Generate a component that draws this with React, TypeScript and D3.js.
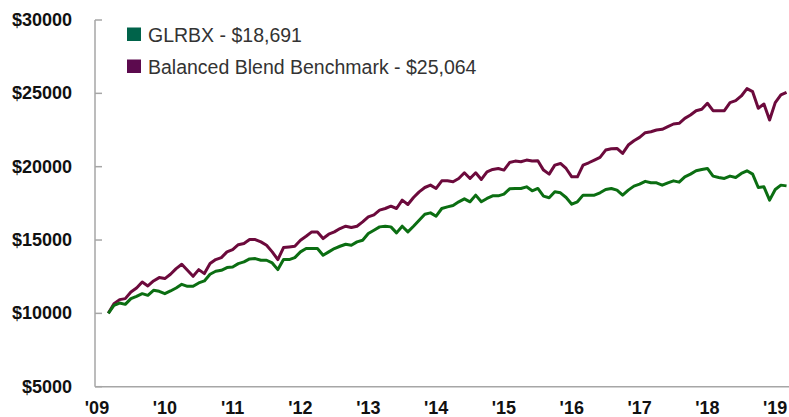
import React from "react";
import * as d3 from "d3";

// Monthly values, Mar 2009 .. Mar 2019
const startYear = 2009;
const startMonth = 2; // March (0-based)

const fundValues = [
  10000, 10546, 10705, 10615, 11004, 11161, 11345, 11229, 11571, 11503,
  11345, 11526, 11732, 11981, 11844, 11844, 12073, 12210, 12664, 12869,
  12937, 13119, 13165, 13390, 13506, 13711, 13734, 13620, 13620, 13438,
  12983, 13666, 13666, 13803, 14190, 14417, 14417, 14417, 13961, 14190,
  14417, 14576, 14713, 14644, 14872, 14986, 15442, 15670, 15896, 15942,
  15896, 15487, 15942, 15553, 15942, 16352, 16762, 16851, 16625, 17149,
  17262, 17356, 17604, 17809, 17604, 18059, 17604, 17832, 18013, 18013,
  18128, 18490, 18515, 18515, 18627, 18353, 18515, 17991, 17878, 18285,
  18217, 17900, 17445, 17604, 18059, 18059, 18059, 18217, 18445, 18515,
  18400, 18059, 18400, 18674, 18811, 19000, 18900, 18900, 18742, 18900,
  19034, 18947, 19309, 19494, 19719, 19810, 19878, 19357, 19268, 19195,
  19357, 19268, 19541, 19719, 19494, 18581, 18627, 17718, 18445, 18742,
  18691,
];

const benchValues = [
  10000, 10662, 10935, 11004, 11459, 11732, 12142, 11868, 12210, 12438,
  12370, 12664, 13051, 13347, 12937, 12527, 12983, 12710, 13393, 13666,
  13803, 14190, 14349, 14680, 14760, 15033, 15033, 14872, 14644, 14190,
  13666, 14487, 14530, 14576, 14986, 15259, 15553, 15553, 15100, 15396,
  15553, 15782, 15942, 15851, 15942, 16236, 16578, 16720, 17035, 17149,
  17308, 17149, 17718, 17422, 17900, 18285, 18581, 18742, 18515, 19034,
  19034, 18968, 19195, 19582, 19195, 19582, 19127, 19650, 19810, 19878,
  19767, 20280, 20382, 20335, 20450, 20382, 20403, 19767, 19494, 20109,
  20221, 19878, 19309, 19309, 20109, 20267, 20450, 20632, 21133, 21224,
  21247, 20904, 21475, 21771, 21999, 22320, 22383, 22500, 22546, 22724,
  22909, 22955, 23296, 23523, 23816, 23913, 24323, 23816, 23816, 23816,
  24369, 24500, 24821, 25320, 25115, 23980, 24275, 23182, 24369, 24889,
  25064,
];

const yTicks = [5000, 10000, 15000, 20000, 25000, 30000];
const xYears = [2009, 2010, 2011, 2012, 2013, 2014, 2015, 2016, 2017, 2018, 2019];

const legendItems = [
  { label: "GLRBX - $18,691", color: "#00634a" },
  { label: "Balanced Blend Benchmark - $25,064", color: "#5c0a4e" },
];

const W = 789;
const H = 417;

export default function App() {
  const axisX = 95;
  const axisBottom = 386.7;
  const monthIndex = (i: number) => (startYear - 2009) * 12 + startMonth + i;
  const x = d3.scaleLinear().domain([0, 120]).range([97, 97 + 120 * 5.652]);
  const y = d3.scaleLinear().domain([5000, 30000]).range([axisBottom, 20]);

  const line = d3
    .line<number>()
    .x((_, i) => x(monthIndex(i)))
    .y((d) => y(d))
    .curve(d3.curveLinear);

  const font = "Arial, 'Liberation Sans', sans-serif";

  return (
    <svg
      width={W}
      height={H}
      style={{ position: "absolute", left: 0, top: 0, background: "#fff" }}
      fontFamily={font}
    >
      {/* axes */}
      <line x1={axisX} x2={axisX} y1={y(30000)} y2={axisBottom} stroke="#a6a6a6" strokeWidth={1.5} />
      <line x1={axisX} x2={W} y1={axisBottom} y2={axisBottom} stroke="#a6a6a6" strokeWidth={1.5} />
      {yTicks.map((t) => (
        <g key={t}>
          <line x1={axisX} x2={axisX + 7} y1={y(t)} y2={y(t)} stroke="#a6a6a6" strokeWidth={1.5} />
          <text
            x={72}
            y={y(t)}
            textAnchor="end"
            dominantBaseline="central"
            fontSize={18}
            fontWeight="bold"
            fill="#111"
          >
            {"$" + t}
          </text>
        </g>
      ))}
      {xYears.map((yr) => (
        <text
          key={yr}
          x={x((yr - 2009) * 12)}
          y={408}
          textAnchor="middle"
          dominantBaseline="central"
          fontSize={18}
          fontWeight="bold"
          fill="#111"
        >
          {"'" + String(yr).slice(2)}
        </text>
      ))}

      {/* lines */}
      <path d={line(benchValues) || ""} fill="none" stroke="#6c0a3c" strokeWidth={3} strokeLinejoin="round" />
      <path d={line(fundValues) || ""} fill="none" stroke="#0b6e12" strokeWidth={3} strokeLinejoin="round" />

      {/* legend */}
      {legendItems.map((it, i) => (
        <g key={it.label} transform={`translate(127, ${27.5 + i * 32})`}>
          <rect x={0} y={0} width={14} height={13.5} fill={it.color} />
          <text x={21} y={7} dominantBaseline="central" fontSize={19.5} fill="#333">
            {it.label}
          </text>
        </g>
      ))}
    </svg>
  );
}
